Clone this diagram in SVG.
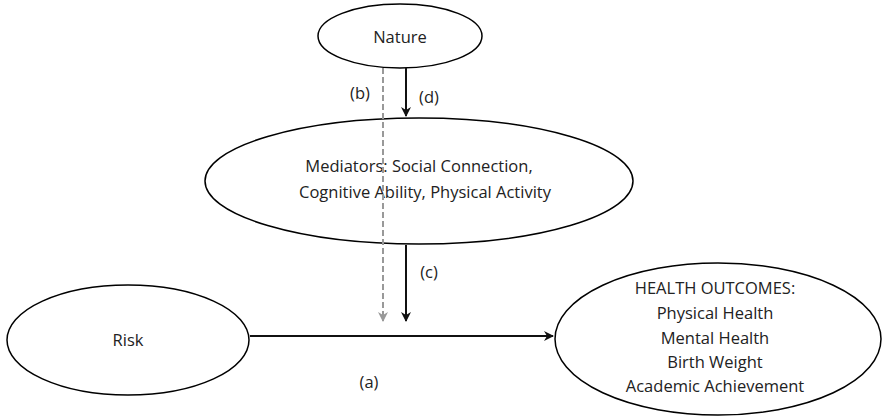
<svg xmlns="http://www.w3.org/2000/svg" width="883" height="419" viewBox="0 0 883 419">
<style>
.n{fill:#fff;stroke:#000;stroke-width:1.5}
text{font-family:"Open Sans","Liberation Sans",Arial,sans-serif;font-size:16.5px;fill:#222;text-anchor:middle}
.c{stroke:#111;stroke-width:2;fill:none}
.d{stroke:#999;stroke-width:2;fill:none;stroke-dasharray:6,3}
</style>
<defs>
<marker id="ah" viewBox="0 0 10 10" refX="9" refY="5" markerWidth="5" markerHeight="5" orient="auto" markerUnits="strokeWidth"><path d="M0,0 L10,5 L0,10 L3,5 z" fill="#111"/></marker>
<marker id="ahg" viewBox="0 0 10 10" refX="9" refY="5" markerWidth="5" markerHeight="5" orient="auto" markerUnits="strokeWidth"><path d="M0,0 L10,5 L0,10 L3,5 z" fill="#999"/></marker>
</defs>
<g id="nature"><ellipse class="n" cx="400" cy="36" rx="82" ry="32"/><text x="400" y="43">Nature</text></g>
<g id="mediators"><ellipse class="n" cx="419" cy="181" rx="214" ry="63"/><text x="419" y="172">Mediators: Social Connection,</text><text x="425" y="198">Cognitive Ability, Physical Activity</text></g>
<g id="risk"><ellipse class="n" cx="128" cy="340" rx="121" ry="55"/><text x="128" y="346">Risk</text></g>
<g id="health"><ellipse class="n" cx="718" cy="339" rx="163" ry="76"/><text x="715" y="294">HEALTH OUTCOMES:</text><text x="715" y="319">Physical Health</text><text x="715" y="344">Mental Health</text><text x="715" y="368">Birth Weight</text><text x="715" y="392">Academic Achievement</text></g>
<g id="connectors">
<line class="d" x1="383" y1="68" x2="383" y2="321" marker-end="url(#ahg)"/>
<line class="c" x1="406" y1="68" x2="406" y2="116" marker-end="url(#ah)"/>
<line class="c" x1="406" y1="245" x2="406" y2="321" marker-end="url(#ah)"/>
<line class="c" x1="250" y1="336" x2="553" y2="336" marker-end="url(#ah)"/>
<text x="360" y="99">(b)</text><text x="429" y="103">(d)</text><text x="429" y="278">(c)</text><text x="369" y="388">(a)</text>
</g>
</svg>
